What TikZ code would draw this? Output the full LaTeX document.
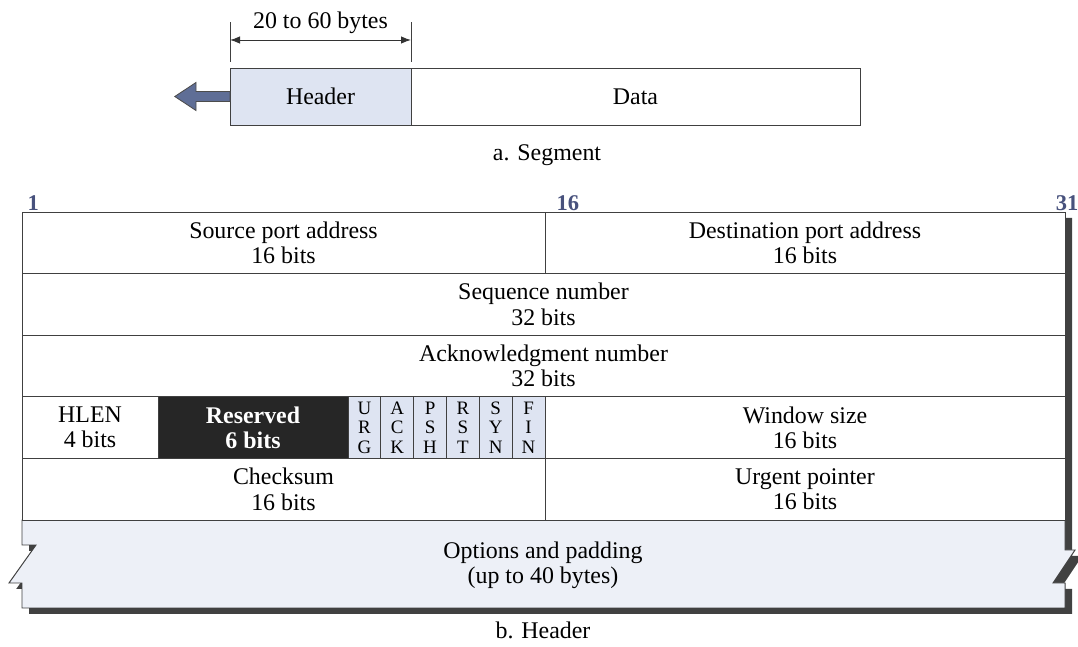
\documentclass[tikz,border=0pt]{standalone}
\usepackage{fontspec}
\setmainfont{Liberation Serif}
\usetikzlibrary{positioning,arrows.meta}
\definecolor{paleblue}{RGB}{222,228,242}
\definecolor{optfill}{RGB}{237,240,247}
\definecolor{numblue}{RGB}{72,82,125}
\definecolor{arrowblue}{RGB}{95,110,150}
\definecolor{shadowgray}{RGB}{65,65,65}

\begin{document}
\begin{tikzpicture}[
  cell/.style={draw=black!75,line width=0.7pt,inner sep=0pt,outer sep=0pt,align=center,minimum height=1.54cm,font=\fontsize{17}{18}\selectfont},
  flag/.style={cell,fill=paleblue,minimum width=0.8208cm,font=\fontsize{13.5}{14}\selectfont},
  bitnum/.style={font=\fontsize{16}{18}\selectfont\bfseries,text=numblue,inner sep=1pt},
  caption/.style={font=\fontsize{17}{18}\selectfont},
  dim/.style={{Latex[length=2.5mm]}-{Latex[length=2.5mm]},line width=0.7pt,draw=black!80}]
\useasboundingbox (0,0) rectangle (26.95,-16.175);

% a. segment
\node[cell,fill=paleblue,minimum width=4.525cm,minimum height=1.425cm,anchor=north west] (hdr) at (5.75,-1.7) {Header};
\node[cell,minimum width=11.225cm,minimum height=1.425cm,right=0pt of hdr] (data) {Data};
\draw[line width=0.7pt,black!75] ([yshift=0.15cm]hdr.north west) -- ++(0,1);
\draw[line width=0.7pt,black!75] ([yshift=0.15cm]hdr.north east) -- ++(0,1);
\draw[dim] ([yshift=0.7cm]hdr.north west) -- ([yshift=0.7cm]hdr.north east)
  node[midway,above=1pt,caption] (len) {20 to 60 bytes};
\filldraw[fill=arrowblue,draw=black!70,line width=0.6pt] (hdr.west) ++(0,0.125) -- ++(-0.85,0) -- ++(0,0.225)
  -- ++(-0.53,-0.35) -- ++(0.53,-0.35) -- ++(0,0.225) -- ++(0.85,0) -- cycle;
\node[caption] (capa) at (13.675,-3.875) {a. Segment};

% b. header: shadow and outline
\fill[shadowgray,shift={(0.18,-0.15)}] (0.55,-5.3) -- (26.625,-5.3) -- (26.625,-13.75) -- (26.875,-13.75)
  -- (26.325,-14.575) -- (26.625,-14.575) -- (26.625,-15.2) -- (0.55,-15.2) -- (0.55,-14.575)
  -- (0.225,-14.575) -- (0.9,-13.625) -- (0.55,-13.625) -- cycle;
\filldraw[fill=optfill,draw=black!75,line width=0.7pt] (0.55,-13) -- (26.625,-13) -- (26.625,-13.75) -- (26.875,-13.75)
  -- (26.325,-14.575) -- (26.625,-14.575) -- (26.625,-15.2) -- (0.55,-15.2) -- (0.55,-14.575)
  -- (0.225,-14.575) -- (0.9,-13.625) -- (0.55,-13.625) -- cycle;
\node[cell,draw=none,align=center] (opt) at (13.575,-14.14) {Options and padding\\(up to 40 bytes)};

\node[cell,fill=white,minimum width=13.075cm,anchor=north west] (src) at (0.55,-5.3) {Source port address\\16 bits};
\node[cell,fill=white,minimum width=13cm,right=0pt of src] (dst) {Destination port address\\16 bits};
\node[cell,fill=white,minimum width=26.075cm,below=0pt of src.south west,anchor=north west] (seq) {Sequence number\\32 bits};
\node[cell,fill=white,minimum width=26.075cm,below=0pt of seq.south west,anchor=north west] (ack) {Acknowledgment number\\32 bits};
\node[cell,fill=white,minimum width=3.4cm,below=0pt of ack.south west,anchor=north west] (hlen) {HLEN\\4 bits};
\node[cell,fill=black!85,text=white,font=\fontsize{17}{18}\selectfont\bfseries,minimum width=4.75cm,right=0pt of hlen] (rsv) {Reserved\\6 bits};
\foreach \a/\b/\c [count=\i] in {U/R/G,A/C/K,P/S/H,R/S/T,S/Y/N,F/I/N}
  \node[flag,anchor=north west] (flag\i) at ([xshift={(\i-1)*0.8208cm}]rsv.north east) {\a\\\b\\\c};
\node[cell,fill=white,minimum width=13cm,right=0pt of flag6] (win) {Window size\\16 bits};
\node[cell,fill=white,minimum width=13.075cm,below=0pt of hlen.south west,anchor=north west] (chk) {Checksum\\16 bits};
\node[cell,fill=white,minimum width=13cm,right=0pt of chk] (urgp) {Urgent pointer\\16 bits};

% bit numbers
\node[bitnum,anchor=south west] (b1) at ([xshift=0.1cm]src.north west) {1};
\node[bitnum,anchor=south west] (b16) at ([xshift=0.25cm]dst.north west) {16};
\node[bitnum,anchor=south] (b31) at ([xshift=0.05cm]dst.north east) {31};

\node[caption] (capb) at (13.575,-15.75) {b. Header};
\end{tikzpicture}
\end{document}
